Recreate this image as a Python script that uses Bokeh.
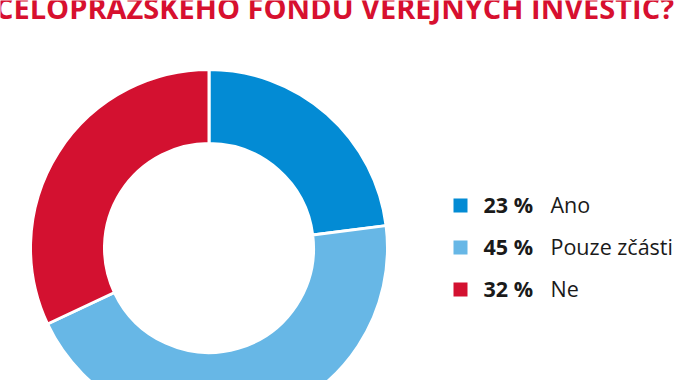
import math
from bokeh.plotting import figure
from bokeh.models import Range1d
from bokeh.core.properties import value
from bokeh.embed import file_html
from bokeh.resources import INLINE

title_text = "CELOPRAŽSKÉHO FONDU VEŘEJNÝCH INVESTIC?"
categories = ["Ano", "Pouze zčásti", "Ne"]
shares = [23, 45, 32]
share_labels = ["23 %", "45 %", "32 %"]
colors = ["#038bd4", "#67b7e6", "#d31130"]

W, H = 674, 380
p = figure(width=W, height=H, output_backend="svg", toolbar_location=None,
           x_range=Range1d(0, W), y_range=Range1d(0, H), min_border=0,
           outline_line_color=None, background_fill_color="white",
           border_fill_color="white")
p.axis.visible = False
p.grid.visible = False

# donut
cx, cy = 208.5, H - 247.5
total = sum(shares)
starts, ends = [], []
acc = 0
for s in shares:
    starts.append(math.pi / 2 - 2 * math.pi * acc / total)
    acc += s
    ends.append(math.pi / 2 - 2 * math.pi * acc / total)
p.annular_wedge(x=[cx] * 3, y=[cy] * 3, inner_radius=104.5, outer_radius=178.5,
                start_angle=starts, end_angle=ends, direction="clock",
                fill_color=colors, line_color="white", line_width=3)

# legend
row_y = [205, 247, 289]
p.scatter(x=[460] * 3, y=[H - y for y in row_y], marker="square", size=14,
          fill_color=colors, line_color=None)
p.text(x=[483] * 3, y=[H - y + 0.7 for y in row_y], text=share_labels,
       text_font=value("Open Sans"), text_font_style="bold",
       text_font_size="21.5px", text_color="#1a1a1a", text_baseline="alphabetic")
p.text(x=[550] * 3, y=[H - y + 0.7 for y in row_y], text=categories,
       text_font=value("Open Sans"), text_font_size="21.5px",
       text_color="#1a1a1a", text_baseline="alphabetic")

# title (cut off at top as in the reference)
p.text(x=[334], y=[H - 7.3], text=[title_text], text_font=value("Open Sans"),
       text_font_style="bold", text_font_size="29px", text_color="#d7102f",
       text_align="center", text_baseline="alphabetic")

open("out.html", "w").write(file_html(p, INLINE))
